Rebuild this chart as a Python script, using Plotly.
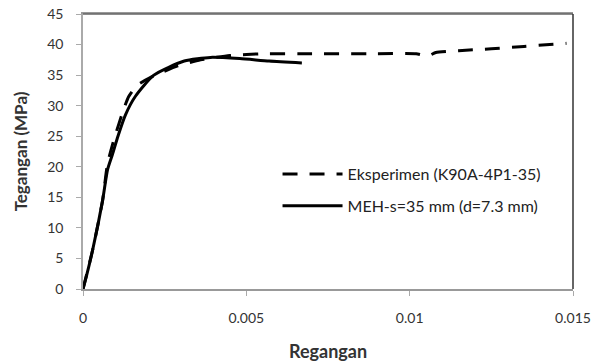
import plotly.graph_objects as go

# Experimental curve (K90A-4P1-35)
exp_strain = [0, 0.0003, 0.0006, 0.00075, 0.00095, 0.00125, 0.0014, 0.00165, 0.0021,
              0.0029, 0.0036, 0.0045, 0.0055, 0.007, 0.009, 0.0102, 0.01055, 0.0108,
              0.0115, 0.0125, 0.0135, 0.0148]
exp_stress = [0, 6.5, 14.5, 20.5, 24.5, 29.5, 31.5, 33.3, 34.7,
              36.5, 37.5, 38.2, 38.5, 38.5, 38.5, 38.5, 38.1, 38.7,
              39.0, 39.3, 39.7, 40.2]

# Model curve MEH
meh_strain = [0, 0.0001, 0.0003, 0.0006, 0.00075, 0.0009, 0.00107, 0.0013, 0.0016, 0.00217,
              0.0031, 0.0039, 0.0048, 0.0057, 0.0067]
meh_stress = [0, 2, 6.5, 14.5, 19.5, 22, 25, 28.5, 31.5, 35,
              37.3, 37.9, 37.7, 37.3, 37.0]

x_ticks = [0, 0.005, 0.01, 0.015]
x_ticklabels = ["0", "0.005", "0.01", "0.015"]
y_ticks = [0, 5, 10, 15, 20, 25, 30, 35, 40, 45]

FONT = "Lato"

fig = go.Figure()
fig.add_trace(go.Scatter(
    x=exp_strain, y=exp_stress, mode="lines",
    name="Eksperimen (K90A-4P1-35)",
    line=dict(color="black", width=3, dash="15px,12px", shape="spline", smoothing=0.5),
    legend="legend", showlegend=True,
))
fig.add_trace(go.Scatter(
    x=meh_strain, y=meh_stress, mode="lines",
    name="MEH-s=35 mm (d=7.3 mm)",
    line=dict(color="black", width=3, shape="spline", smoothing=0.6),
    legend="legend2", showlegend=True,
))

legend_common = dict(
    bgcolor="rgba(0,0,0,0)", borderwidth=0,
    font=dict(family=FONT, size=16, color="#222"),
    xanchor="left", yanchor="middle", itemwidth=60,
)

fig.update_layout(
    width=595, height=362,
    showlegend=True,
    margin=dict(l=83, r=22, t=14, b=73),
    paper_bgcolor="white", plot_bgcolor="white",
    font=dict(family=FONT, color="#333"),
    legend=dict(x=0.397, y=0.418, **legend_common),
    legend2=dict(x=0.397, y=0.302, **legend_common),
    xaxis=dict(
        range=[0, 0.015], tickvals=x_ticks, ticktext=x_ticklabels,
        showgrid=False, zeroline=False, showline=True, linecolor="#999", linewidth=1.5,
        mirror=True,
        ticks="outside", ticklen=5, tickcolor="#aaa",
        tickfont=dict(family=FONT, size=14, color="#333"),
        ticklabelstandoff=10, automargin="left",
        title=dict(text="<b>Regangan</b>", font=dict(family=FONT, size=18, color="#333"),
                   standoff=22),
    ),
    yaxis=dict(
        range=[0, 45], tickvals=y_ticks,
        showgrid=False, zeroline=False, showline=True, linecolor="#aaa", linewidth=1.5,
        ticks="outside", ticklen=5, tickcolor="#aaa",
        tickfont=dict(family=FONT, size=14, color="#333"),
        ticklabelstandoff=10, automargin=False,
        title=dict(text="<b>Tegangan (MPa)</b>", font=dict(family=FONT, size=17, color="#333")),
    ),
    shapes=[
        dict(type="line", xref="paper", yref="paper", x0=0, x1=1, y0=1, y1=1,
             line=dict(color="#666", width=1.5)),
        dict(type="line", xref="paper", yref="paper", x0=1, x1=1, y0=0, y1=1,
             line=dict(color="#333", width=1.5)),
    ],
)

fig.write_html(
    "out.html",
    config={"displayModeBar": False},
    post_script="document.body.style.margin='0';document.body.style.padding='0';",
)
